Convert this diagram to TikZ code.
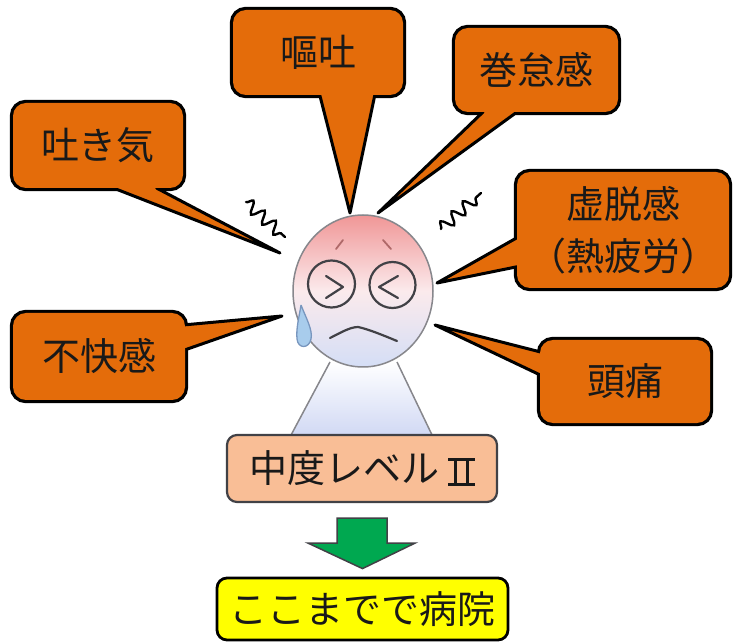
\documentclass[tikz,border=0pt]{standalone}
\usepackage{fontspec}
\newfontfamily\cjk{Noto Sans CJK JP}
\usetikzlibrary{calc,decorations.pathmorphing}
\pgfdeclarelayer{background}
\pgfsetlayers{background,main}

% Roman numeral two with top and bottom bars
\newcommand\romantwo{\hspace{9pt}\raisebox{-3pt}{%
  \rlap{\rule{27pt}{2.6pt}}\rlap{\rule[25.4pt]{27pt}{2.6pt}}%
  \hspace{6pt}\rule{3pt}{28pt}\hspace{9pt}\rule{3pt}{28pt}\hspace{6pt}}}

\definecolor{calloutorange}{RGB}{228,108,10}
\definecolor{levelpeach}{RGB}{249,190,150}
\definecolor{goalyellow}{RGB}{255,255,0}
\definecolor{arrowgreen}{RGB}{0,168,80}
\definecolor{headpink}{RGB}{240,150,150}
\definecolor{headmid}{RGB}{251,234,236}
\definecolor{headblue}{RGB}{212,222,246}
\definecolor{bodyblue}{RGB}{208,216,244}
\definecolor{outlinegray}{RGB}{135,135,140}
\definecolor{facegray}{RGB}{65,65,70}
\definecolor{browcolor}{RGB}{175,105,105}
\definecolor{tearblue}{RGB}{168,204,236}
\definecolor{tearline}{RGB}{120,150,190}
\definecolor{textdark}{RGB}{25,25,25}

\begin{document}
\begin{tikzpicture}[x=1pt,y=-1pt,
  bigtext/.style={font=\cjk\fontsize{38}{52}\selectfont, text=textdark},
  callout/.style={bigtext, rectangle, rounded corners=13pt, fill=calloutorange,
    inner sep=0pt, align=center},
  calloutframe/.style={draw=black, line width=6pt, rounded corners=13pt},
  callouttail/.style={fill=calloutorange, draw=black, line width=3pt, line join=round},
  levelbox/.style={bigtext, rectangle, rounded corners=10pt, fill=levelpeach,
    draw=facegray, line width=2.2pt, inner sep=0pt},
  goalbox/.style={bigtext, rectangle, rounded corners=10pt, fill=goalyellow,
    draw=black, line width=2.8pt, inner sep=0pt},
  face/.style={draw=facegray, line width=2.2pt, line cap=round, line join=round},
  squiggle/.style={draw=black, line width=2.4pt, line cap=round,
    decorate, decoration={snake, segment length=15pt, amplitude=6pt}},
]
\useasboundingbox (0,0) rectangle (734,644);
\begin{pgfonlayer}{background}
  \fill[white] (0,0) rectangle (734,644);
\end{pgfonlayer}

% ---------- the figure ----------
% body
\draw[outlinegray, line width=1.5pt, top color=white, bottom color=bodyblue]
  (330,362) -- (290,437) -- (433,437) -- (397,362);
% head
\draw[outlinegray, line width=1.5pt, top color=headpink, bottom color=headblue,
  middle color=headmid] (363,291) ellipse [x radius=70pt, y radius=76pt];
% eyebrows
\draw[browcolor, line width=1.8pt, line cap=round] (336,249) -- (343,240);
\draw[browcolor, line width=1.8pt, line cap=round] (383,240) -- (391,249);
% eyes
\draw[face] (331.5,284) circle [radius=23.5pt];
\draw[face] (392.5,285) circle [radius=23pt];
\draw[face] (326,276) -- (343,287) -- (326,298);
\draw[face] (398,276) -- (379,287) -- (398,298);
% mouth
\draw[face] (330,338) .. controls (340,333) and (350,327) .. (358,327)
  .. controls (368,329) and (385,336) .. (397,341);
% tear
\draw[tearline, line width=1.3pt, fill=tearblue]
  (301,305) .. controls (306,318) and (313,330) .. (311,339)
  .. controls (309,349) and (298,349) .. (297,339)
  .. controls (296,328) and (299,318) .. (301,305);
% squiggles
\coordinate (sqLa) at (246,202);
\coordinate (sqLb) at (285,237);
\coordinate (sqRa) at (441,229);
\coordinate (sqRb) at (481,193);
\draw[squiggle] (sqLa) -- (sqLb);
\draw[squiggle] (sqRa) -- (sqRb);

% ---------- callouts ----------
\node[callout, minimum width=170pt, minimum height=85pt] (nausea) at (98,145.5) {吐き気};
\node[callout, minimum width=170pt, minimum height=85pt] (vomit) at (318,52.5) {嘔吐};
\node[callout, minimum width=163pt, minimum height=84pt] (fatigue) at (536.5,70) {巻怠感};
\node[callout, minimum width=212pt, minimum height=116pt] (exhaust) at (623,230) {虚脱感\\（熱疲労）};
\node[callout, minimum width=172pt, minimum height=87pt] (discomfort) at (99,356.5) {不快感};
\node[callout, minimum width=170pt, minimum height=83pt] (headache) at (625,381.5) {頭痛};

\coordinate (nauseaTip) at (280,253);
\coordinate (vomitTip) at (350,213);
\coordinate (fatigueTip) at (378,213);
\coordinate (exhaustTip) at (437,283);
\coordinate (discomfortTip) at (282,316);
\coordinate (headacheTip) at (435,325);

\begin{pgfonlayer}{background}
  \foreach \n in {nausea,vomit,fatigue,exhaust,discomfort,headache}
    \draw[calloutframe] (\n.south west) rectangle (\n.north east);
  % tails on bottom edges
  \draw[callouttail] ([xshift=101pt]nausea.south west) -- (nauseaTip)
    -- ([xshift=144pt]nausea.south west) -- ([xshift=144pt,yshift=12pt]nausea.south west)
    -- ([xshift=101pt,yshift=12pt]nausea.south west) -- cycle;
  \draw[callouttail] ([xshift=87pt]vomit.south west) -- (vomitTip)
    -- ([xshift=142pt]vomit.south west) -- ([xshift=142pt,yshift=12pt]vomit.south west)
    -- ([xshift=87pt,yshift=12pt]vomit.south west) -- cycle;
  \draw[callouttail] ([xshift=28pt]fatigue.south west) -- (fatigueTip)
    -- ([xshift=62pt]fatigue.south west) -- ([xshift=62pt,yshift=12pt]fatigue.south west)
    -- ([xshift=28pt,yshift=12pt]fatigue.south west) -- cycle;
  % tails on side edges
  \draw[callouttail] ([yshift=-66pt]exhaust.north west) -- (exhaustTip)
    -- ([yshift=-95pt]exhaust.north west) -- ([xshift=12pt,yshift=-95pt]exhaust.north west)
    -- ([xshift=12pt,yshift=-66pt]exhaust.north west) -- cycle;
  \draw[callouttail] ([yshift=-12pt]discomfort.north east) -- (discomfortTip)
    -- ([yshift=-37pt]discomfort.north east) -- ([xshift=-12pt,yshift=-37pt]discomfort.north east)
    -- ([xshift=-12pt,yshift=-12pt]discomfort.north east) -- cycle;
  \draw[callouttail] ([yshift=-12pt]headache.north west) -- (headacheTip)
    -- ([yshift=-35pt]headache.north west) -- ([xshift=12pt,yshift=-35pt]headache.north west)
    -- ([xshift=12pt,yshift=-12pt]headache.north west) -- cycle;
\end{pgfonlayer}

% ---------- level and result ----------
\node[levelbox, minimum width=270pt, minimum height=67pt] (level) at (362,468.5)
  {中度レベル\romantwo};
\node[goalbox, minimum width=291pt, minimum height=62pt] (goal) at (362.5,609) {ここまでで病院};

\coordinate (arrowTop) at ([yshift=-15pt]level.south);
\coordinate (arrowTip) at ([yshift=8pt]goal.north);
\draw[fill=arrowgreen, draw=facegray, line width=1.5pt, line join=miter]
  ([xshift=-25pt]arrowTop) -- ([xshift=25pt]arrowTop)
  -- ([xshift=25pt,yshift=-25pt]arrowTop) -- ([xshift=53pt,yshift=-25pt]arrowTop)
  -- (arrowTip)
  -- ([xshift=-54pt,yshift=-25pt]arrowTop) -- ([xshift=-25pt,yshift=-25pt]arrowTop) -- cycle;
\end{tikzpicture}
\end{document}
